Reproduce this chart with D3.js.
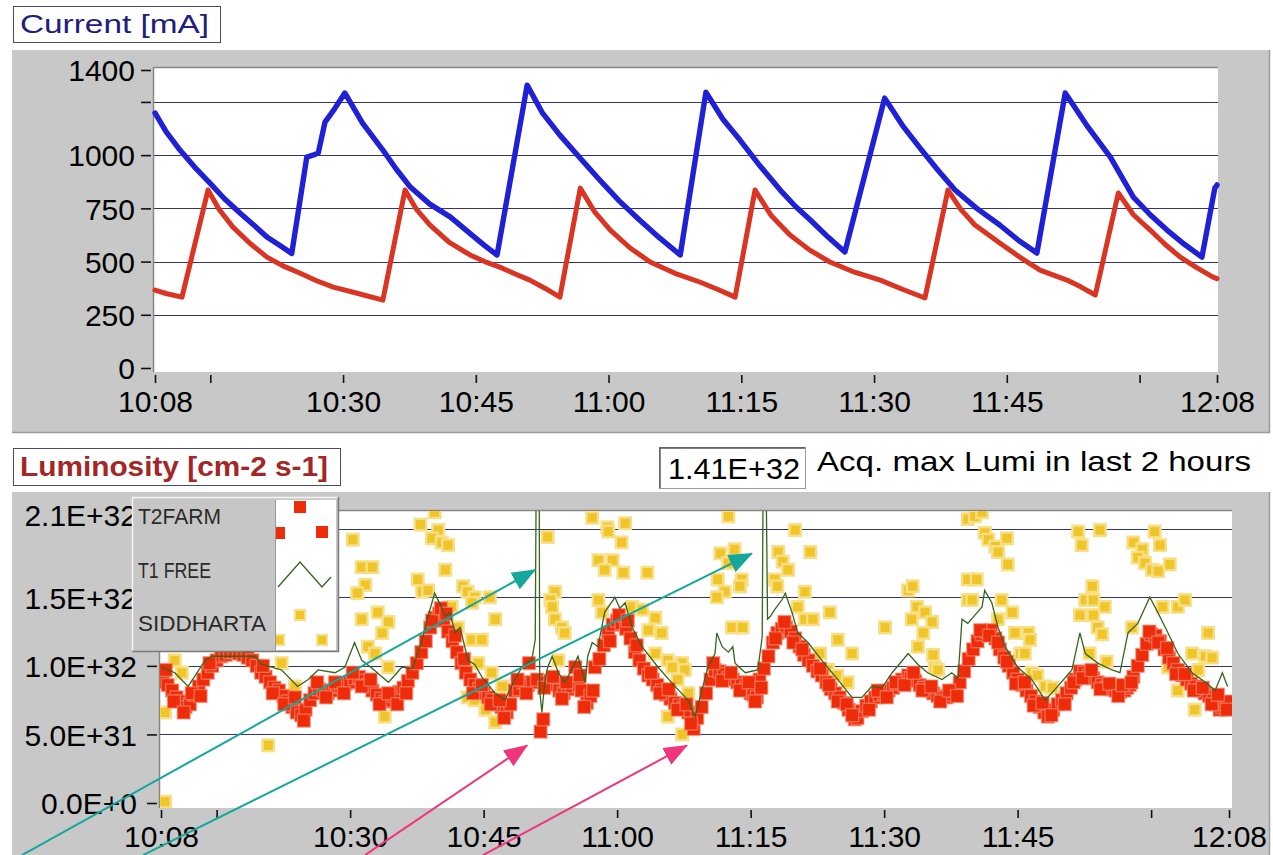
<!DOCTYPE html>
<html>
<head>
<meta charset="utf-8">
<script src="https://cdn.jsdelivr.net/npm/d3@7"></script>
<style>
  html, body { margin: 0; padding: 0; background: #ffffff; }
  svg { display: block; }
  text { font-family: "Liberation Sans", Arial, sans-serif; }
</style>
</head>
<body>
<svg id="chart" width="1273" height="855"></svg>
<script>
// ---- time helpers: all series are stored as [minutes past 10:00, value] ----
const day = new Date(2024, 0, 1, 10, 0, 0);
const at = m => new Date(day.getTime() + m * 60000);

const windowStart = 8.75;   // 10:08:45
const windowEnd = 128.75;   // 12:08:45

const timeTickMinutes = [8.75, 15, 30, 45, 60, 75, 90, 105, 120, 128.75];
const timeTickLabels = ["10:08", "", "10:30", "10:45", "11:00", "11:15", "11:30", "11:45", "", "12:08"];

const currentTicks = [0, 250, 500, 750, 1000, 1250, 1400];
const currentTickLabels = ["0", "250", "500", "750", "1000", "", "1400"];
const currentGrid = [250, 500, 750, 1000, 1250];

// luminosity values are in units of 1E+32 cm-2 s-1
const lumiTicks = [0, 0.5, 1.0, 1.5, 2.1];
const lumiTickLabels = ["0.0E+0", "5.0E+31", "1.0E+32", "1.5E+32", "2.1E+32"];
const lumiGrid = [0.5, 1.0, 1.5, 2.0];

const acquiredMaxLumi = "1.41E+32";

// ---- beam currents [mA] ----
const electronCurrent = [
  [8.75,1198],[10,1110],[11.57,1024],[13.2,945],[14.96,869],[16.6,795],[18.35,728],[20,668],
  [21.4,615],[23,572],[24.2,538],[25.9,991],[26.6,1000],[27.2,1010],[27.96,1155],[29.0,1215],
  [30.2,1292],[32.2,1150],[34.5,1024],[36,935],[37.6,850],[39.8,770],[42.1,710],[44.3,634],
  [46,575],[47.4,531],[50.8,1329],[52.5,1200],[54.5,1094],[56.8,985],[59.0,883],[61.2,785],
  [63.5,695],[65.8,610],[68.1,531],[71.0,1296],[72.9,1170],[74.85,1071],[77.1,950],[79.4,836],
  [81.1,760],[82.8,695],[84.8,615],[86.7,545],[91.2,1268],[93.2,1140],[95.2,1033],[97.2,930],
  [99.15,836],[101.6,750],[104.2,672],[106.3,600],[108.4,540],[111.6,1292],[114.2,1130],
  [116.7,991],[119.3,803],[121.2,720],[123.1,648],[125.1,580],[127.05,521],[128.5,845],[128.75,860]
];

const positronCurrent = [
  [8.75,366],[10,350],[11.8,333],[14.74,836],[16,745],[17.56,662],[19.5,585],[21.4,521],
  [23.2,480],[25.1,446],[27,410],[28.9,380],[31.7,350],[34.5,319],[37.0,836],[38.3,745],
  [39.8,672],[42,590],[44.35,531],[46,500],[47.7,474],[49.4,443],[51.1,413],[52.8,375],
  [54.5,333],[56.8,845],[58.4,735],[60.2,648],[62.4,565],[64.7,498],[67.5,445],[70.3,404],
  [72.3,370],[74.3,333],[76.55,836],[78.4,715],[80.5,625],[82.7,555],[85.0,498],[87.8,450],
  [90.7,413],[93.2,370],[95.75,329],[98.35,836],[99.8,745],[101.4,672],[104.2,587],[106.5,520],
  [108.75,460],[111.8,413],[113.4,380],[115.0,343],[117.6,822],[119.3,720],[121.2,648],
  [122.9,580],[124.6,521],[126.5,470],[128.3,427],[128.75,420]
];

// ---- luminosity monitors [1E+32 cm-2 s-1] ----
const t2farm = [
  [9,0.88],[9.5,0.86],[10,0.82],[10.5,0.77],[11,0.74],[11.5,0.70],[12,0.72],[12.5,0.79],[13,0.85],
  [13.5,0.90],[14,0.95],[14.5,1.0],[15,1.04],[15.5,1.07],[16,1.08],[16.5,1.10],[17,1.10],[17.5,1.09],
  [18,1.08],[18.5,1.06],[19,1.04],[19.5,1.00],[20,0.95],[20.5,0.92],[21,0.88],[21.5,0.84],[22,0.82],
  [22.5,0.78],[23,0.74],[23.5,0.70],[24,0.66],[24.5,0.64],[25,0.68],[25.5,0.75],[26,0.80],[26.5,0.83],
  [27,0.82],[27.5,0.80],[28,0.82],[28.5,0.85],[29,0.85],[29.5,0.87],[30,0.88],[30.5,0.91],[31,0.92],
  [31.5,0.89],[32,0.86],[32.5,0.82],[33,0.79],[33.5,0.76],[34,0.74],[34.5,0.75],[35,0.78],[35.5,0.81],
  [36,0.84],[36.5,0.89],[37,0.95],[37.5,1.02],[38,1.10],[38.5,1.18],[39,1.28],[39.5,1.35],[40,1.38],
  [40.5,1.33],[41,1.25],[41.5,1.18],[42,1.10],[42.5,1.02],[43,0.95],[43.5,0.90],[44,0.86],[44.5,0.83],
  [45,0.80],[45.5,0.77],[46,0.75],[46.5,0.72],[47,0.70],[47.6,0.66],[48,0.72],[48.5,0.82],[49,0.83],
  [49.5,0.88],[50,0.86],[50.1,1.02],[50.5,0.88],[51,0.90],[51.4,0.52],[51.7,0.61],[52,0.88],
  [52.5,0.89],[53,0.86],[53.5,0.82],[54,0.80],[54.5,0.83],[54.9,0.85],[55.3,0.99],[55.7,0.86],
  [56,0.82],[56.6,0.73],[57,0.78],[57.5,0.99],[58,1.05],[58.5,1.15],[59,1.24],[59.5,1.30],[60,1.33],
  [60.5,1.31],[61,1.27],[61.5,1.20],[62,1.10],[62.5,1.04],[63,0.98],[63.5,0.93],[64,0.90],[64.5,0.86],
  [65,0.82],[65.5,0.79],[66,0.76],[66.5,0.73],[67,0.71],[67.5,0.69],[68,0.66],[68.6,0.54],[69,0.62],
  [69.5,0.70],[70,0.80],[70.5,0.90],[71,0.97],[71.5,0.96],[72,0.94],[72.5,0.91],[73,0.90],[73.5,0.88],
  [74,0.86],[74.5,0.84],[75,0.80],[75.3,0.79],[75.7,0.77],[76,0.90],[76.5,0.98],[77,1.07],[77.5,1.17],
  [78,1.24],[78.5,1.27],[79,1.28],[79.5,1.25],[80,1.20],[80.5,1.14],[81,1.08],[81.5,1.04],[82,1.00],
  [82.5,0.96],[83,0.93],[83.5,0.88],[84,0.83],[84.5,0.80],[85,0.77],[85.5,0.73],[86,0.68],[86.7,0.61],
  [87,0.62],[87.5,0.67],[88,0.71],[88.5,0.74],[89,0.77],[89.5,0.79],[90,0.80],[90.5,0.82],[91,0.84],
  [91.5,0.87],[92,0.90],[92.7,0.93],[93,0.91],[93.5,0.89],[94,0.86],[94.5,0.84],[95,0.82],[95.5,0.80],
  [96,0.78],[96.5,0.77],[97,0.77],[97.5,0.79],[98,0.82],[98.5,0.88],[99,0.96],[99.5,1.05],[100,1.12],
  [100.5,1.18],[101,1.23],[101.5,1.25],[102,1.26],[102.5,1.20],[103,1.12],[103.5,1.06],[104,1.00],
  [104.5,0.95],[105,0.90],[105.5,0.86],[106,0.82],[106.5,0.78],[107,0.74],[107.5,0.70],[108,0.66],
  [108.4,0.63],[109,0.68],[109.5,0.72],[110,0.75],[110.5,0.80],[111,0.84],[111.5,0.90],[112,0.96],
  [112.5,0.95],[113,0.93],[113.5,0.91],[114,0.88],[114.5,0.86],[115,0.84],[115.5,0.83],[116,0.82],
  [116.5,0.81],[117,0.82],[117.3,0.84],[117.6,0.86],[118,0.92],[118.5,1.00],[119,1.08],[119.5,1.16],
  [120,1.23],[120.5,1.22],[121,1.18],[121.5,1.12],[122,1.06],[122.5,1.02],[123,0.97],[123.5,0.93],
  [124,0.90],[124.5,0.87],[125,0.85],[125.5,0.82],[126,0.80],[126.5,0.78],[127,0.75],[127.3,0.72],
  [127.7,0.68],[128,0.70],[128.3,0.72],[128.6,0.74],
  // samples scattered above and below the main band
  [9.3,0.97],[10.2,0.74],[11.3,0.66],[12.2,0.80],[13.2,0.78],[14.2,1.02],[20.2,1.0],[21.3,0.80],
  [22.6,0.72],[23.8,0.77],[24.8,0.60],[26.3,0.88],[27.3,0.77],[28.3,0.88],[29.3,0.80],[30.3,0.95],
  [31.3,0.85],[32.3,0.90],[33.3,0.72],[34.3,0.80],[35.3,0.72],[36.3,0.80],[39.2,1.33],[40.2,1.42],
  [40.8,1.38],[41.8,1.22],[42.8,1.05],[43.8,0.80],[44.8,0.86],[45.8,0.72],[46.8,0.75],[47.3,0.62],
  [48.8,0.90],[49.8,0.80],[51.8,0.84],[52.8,0.92],[53.8,0.76],[54.3,0.88],[55.8,0.93],[56.3,0.70],
  [57.3,0.82],[59.2,1.18],[60.2,1.37],[61.2,1.33],[62.2,1.15],[63.8,0.95],[64.8,0.80],[65.8,0.83],
  [66.8,0.68],[67.8,0.72],[68.3,0.58],[70.8,1.02],[71.8,0.89],[72.8,0.95],[73.8,0.82],[74.8,0.88],
  [75.5,0.74],[76.2,0.84],[77.8,1.20],[78.8,1.32],[79.8,1.17],[80.8,1.12],[82.8,0.98],[83.8,0.86],
  [84.8,0.74],[85.8,0.72],[86.4,0.64],[88.3,0.68],[89.3,0.82],[90.3,0.77],[91.3,0.88],[92.3,0.86],
  [93.3,0.95],[94.3,0.82],[95.3,0.85],[96.3,0.74],[97.3,0.82],[98.2,0.78],[100.8,1.26],[101.8,1.22],
  [102.8,1.17],[103.8,1.03],[104.8,0.87],[105.8,0.88],[106.8,0.71],[107.8,0.73],[108.8,0.64],
  [110.3,0.72],[111.3,0.88],[112.3,0.91],[113.3,0.97],[114.3,0.83],[115.3,0.87],[116.3,0.78],
  [116.8,0.86],[117.8,0.88],[119.8,1.25],[120.8,1.17],[121.8,1.13],[122.8,0.94],[123.8,0.94],
  [124.8,0.82],[125.8,0.84],[126.8,0.72],[127.5,0.79],[128.5,0.68]
];

const t1free = [
  [8.86,0.99],[10.3,0.95],[11.8,0.85],[13.7,1.04],[14.5,1.07],[19.3,1.07],[20.1,1.01],[22.3,0.97],
  [24.1,0.85],[25.3,0.90],[26.4,0.97],[28.3,0.95],[29.4,0.99],[30.5,1.17],[31.3,1.04],[32.5,0.98],
  [34.3,0.88],[35.0,0.93],[35.8,0.99],[37.0,0.98],[38.1,1.19],[38.75,1.36],[39.5,1.53],[40.1,1.45],
  [40.7,1.36],[41.2,1.39],[41.8,1.24],[42.35,1.28],[43.25,1.04],[44.0,1.01],[44.8,0.92],[46.3,0.80],
  [47.4,0.75],[48.5,0.90],[49.3,0.99],[50.4,1.04],[50.8,1.19],[50.9,2.3],[51.25,2.3],[51.3,0.82],
  [51.55,0.66],[51.9,0.90],[52.2,0.99],[52.7,1.07],[53.4,0.95],[54.1,0.88],[54.9,0.97],[55.6,1.07],
  [56.4,0.88],[56.7,1.07],[57.2,1.17],[57.85,1.14],[58.6,1.39],[59.75,1.50],[60.3,1.42],[60.9,1.46],
  [61.7,1.28],[62.8,1.14],[64.6,0.99],[66.5,0.85],[67.96,0.75],[68.75,0.63],[70.2,0.99],[71.0,1.09],
  [71.2,1.24],[71.8,1.14],[72.5,1.10],[73.0,1.14],[73.25,1.02],[74.4,0.95],[75.8,0.97],[76.3,1.21],
  [76.4,2.3],[76.75,2.3],[76.9,1.34],[77.2,1.36],[77.7,1.41],[78.5,1.48],[78.9,1.53],[79.65,1.39],
  [80.3,1.24],[81.45,1.17],[83.0,1.04],[84.8,0.90],[86.4,0.77],[87.5,0.77],[88.6,0.85],[89.75,0.84],
  [90.9,0.95],[92.7,1.09],[93.8,1.01],[94.9,0.95],[96.5,0.90],[97.6,0.95],[98.3,0.91],[98.75,1.34],
  [99.4,1.31],[100.2,1.37],[101.0,1.43],[101.3,1.55],[102.1,1.46],[102.8,1.28],[103.6,1.14],
  [105.0,0.99],[106.6,0.90],[108.1,0.75],[109.5,0.85],[111.1,0.97],[112.0,1.24],[112.6,1.09],
  [114.0,1.02],[115.6,0.97],[116.5,0.95],[117.4,1.24],[118.5,1.31],[119.85,1.50],[120.75,1.39],
  [121.9,1.24],[123.0,1.09],[124.6,0.95],[126.1,0.88],[127.2,0.82],[128.0,0.95],[128.6,0.85]
];

const siddharta = [
  [9.2,0.66],[11.1,0.95],[9.2,0.01],[10.3,1.04],[20.8,0.42],[22.3,1.02],[23.8,0.85],
  [37.9,2.03],[30.3,1.92],[31.3,1.72],[32.5,1.72],[37.6,1.63],[31.7,1.59],[30.8,1.53],[38.1,1.54],
  [33.1,1.39],[34.3,1.32],[31.3,1.34],[33.6,1.24],[32.0,1.14],[32.8,1.09],[34.3,0.99],[33.9,0.63],
  [39.5,2.12],[39.9,1.99],[39.2,1.93],[40.3,1.90],[41.0,1.88],[40.7,1.70],[38.75,1.55],[42.7,1.58],
  [43.2,1.54],[44.0,1.50],[45.7,1.50],[43.7,1.46],[41.4,1.43],[46.3,1.34],[42.1,1.28],[43.7,1.19],
  [44.8,1.19],[44.4,1.02],[45.9,0.95],[43.2,0.77],[44.0,0.75],[45.2,0.68],[46.3,0.59],[47.1,0.85],
  [52.2,1.94],[53.0,1.54],[52.5,1.48],[52.7,1.43],[53.0,1.34],[53.8,1.28],[54.1,1.24],[53.4,1.04],
  [57.2,2.08],[58.9,2.01],[60.9,2.04],[59.0,1.98],[60.5,1.90],[57.9,1.77],[59.5,1.77],[58.6,1.70],
  [60.7,1.68],[63.4,1.68],[57.9,1.48],[58.3,1.39],[61.7,1.43],[62.8,1.41],[64.3,1.35],[65.0,1.24],
  [63.5,1.26],[64.3,1.09],[65.7,1.04],[67.3,1.02],[66.2,0.99],[67.6,0.97],[66.8,0.90],[68.0,0.80],
  [65.7,0.63],[67.3,0.50],
  [72.5,2.09],[71.6,1.82],[73.2,1.85],[72.5,1.75],[71.3,1.63],[74.0,1.63],[72.1,1.54],[71.2,1.50],
  [73.8,1.58],[72.9,1.28],[74.1,1.28],[80.0,1.99],[81.7,1.83],[78.1,1.83],[78.6,1.76],[79.2,1.70],
  [77.7,1.63],[78.0,1.58],[81.1,1.54],[80.3,1.43],[81.1,1.34],[82.0,1.34],[83.9,1.39],[84.8,1.19],
  [86.4,1.09],[82.8,1.09],[83.7,0.97],[84.7,0.93],[85.9,0.88],[90.1,1.28],[92.7,1.55],[93.2,1.58],
  [93.7,1.43],[94.6,1.39],[95.4,1.32],[93.1,1.34],[94.4,1.24],[93.8,1.14],[95.5,1.08],[95.7,0.99],
  [96.05,0.97],[99.4,2.07],[99.4,1.63],[99.4,1.48],
  [100.2,2.09],[101.0,2.12],[101.3,1.97],[101.7,1.92],[102.5,1.87],[102.8,1.83],[103.8,1.93],
  [103.9,1.74],[100.4,1.63],[99.9,1.48],[103.2,1.48],[104.4,1.39],[102.8,1.34],[104.7,1.24],
  [106.2,1.24],[106.4,1.19],[105.3,1.09],[105.8,1.09],[106.6,0.95],[107.2,0.93],[108.1,0.85],
  [108.9,0.84],[111.8,1.98],[114.25,1.99],[112.2,1.88],[113.4,1.58],[112.6,1.48],[113.5,1.48],
  [114.8,1.43],[112.0,1.37],[113.5,1.37],[114.0,1.28],[114.5,1.23],[113.1,1.09],[115.0,1.03],
  [118.0,1.90],[119.0,1.85],[118.5,1.79],[119.3,1.75],[120.1,1.70],[120.8,1.69],[120.4,1.98],
  [121.0,1.88],[122.1,1.74],[117.85,1.28],[121.3,1.43],[123.0,1.43],[123.8,1.48],[126.4,1.24],
  [124.6,1.09],[126.1,1.07],[126.85,1.06],[121.9,0.99],[125.3,0.97],[123.0,0.82],[124.9,0.68]
];

// ---- annotation arrows: [start minute, start value, tip minute, tip value] in luminosity units ----
const spikeArrows = [[-6.87, -0.38, 50.8, 1.70], [6.73, -0.38, 75.15, 1.82]];
const dipArrows = [[31.67, -0.38, 49.9, 0.42], [44.93, -0.38, 67.85, 0.42]];

// ---- styles ----
const C = {
  panel: "#c8c8c8", panelEdge: "#9c9c9c", inset: "#868686",
  grid: "#34346e", blue: "#2020d6", red: "#da3422",
  farm: "#ee2c0a", farmEdge: "#f3937c", free: "#35661c",
  sid: "#f0c52a", sidEdge: "#f8df86", teal: "#14a79c", pink: "#f0357c"
};

const svg = d3.select("#chart");
const defs = svg.append("defs");

function addMarker(id, color) {
  defs.append("marker").attr("id", id)
    .attr("viewBox", "0 -10 24 20").attr("refX", 23).attr("refY", 0)
    .attr("markerWidth", 24).attr("markerHeight", 20)
    .attr("markerUnits", "userSpaceOnUse").attr("orient", "auto")
    .append("path").attr("d", "M0,-9.5L24,0L0,9.5Z").attr("fill", color);
}
addMarker("headTeal", C.teal);
addMarker("headPink", C.pink);

function grayPanel(x, y, w, h) {
  svg.append("rect").attr("x", x).attr("y", y).attr("width", w).attr("height", h)
    .attr("fill", C.panel);
  svg.append("path").attr("d", `M${x + w - 0.5},${y}V${y + h - 0.5}H${x}`)
    .attr("fill", "none").attr("stroke", C.panelEdge).attr("stroke-width", 1.5);
}
function plotArea(x, y, w, h) {
  svg.append("rect").attr("x", x).attr("y", y).attr("width", w).attr("height", h).attr("fill", "#fff");
  svg.append("path").attr("d", `M${x - 0.5},${y + h}V${y - 0.5}H${x + w}`)
    .attr("fill", "none").attr("stroke", C.inset).attr("stroke-width", 1.5);
}
function titleBox(x, y, w, h, label, color, size, len, weight) {
  svg.append("rect").attr("x", x + 0.5).attr("y", y + 0.5).attr("width", w).attr("height", h)
    .attr("fill", "#fff").attr("stroke", "#4c4c6a").attr("stroke-width", 1);
  svg.append("text").attr("x", x + 7).attr("y", y + h - 9)
    .attr("font-size", size).attr("fill", color).attr("font-weight", weight || "normal")
    .attr("textLength", len).attr("lengthAdjust", "spacingAndGlyphs")
    .text(label);
}
function styleAxis(g) {
  g.select(".domain").remove();
  g.selectAll(".tick line").attr("stroke", "#111").attr("stroke-width", 1.6);
  g.selectAll(".tick text").attr("font-size", 30).attr("fill", "#000")
    .attr("font-family", "'Liberation Sans', Arial, sans-serif");
}

// ================= Current panel =================
grayPanel(12, 50, 1258, 383);
plotArea(154, 68, 1064, 304);
titleBox(13, 6, 207, 36, "Current [mA]", "#20207c", 25, 189);

const xTop = d3.scaleTime().domain([at(windowStart), at(windowEnd)]).range([155, 1217]);
const yTop = d3.scaleLinear().domain([0, 1400]).range([368, 70]);

svg.append("g").selectAll("line").data(currentGrid).join("line")
  .attr("x1", 154).attr("x2", 1218)
  .attr("y1", d => Math.round(yTop(d)) + 0.5).attr("y2", d => Math.round(yTop(d)) + 0.5)
  .attr("stroke", C.grid).attr("stroke-width", 1.2);

const gyTop = svg.append("g").attr("transform", "translate(151,0)")
  .call(d3.axisLeft(yTop).tickValues(currentTicks).tickSize(10).tickPadding(6)
    .tickFormat((d, i) => currentTickLabels[i]));
styleAxis(gyTop);
gyTop.selectAll(".tick text").attr("dy", "0.36em");

const gxTop = svg.append("g").attr("transform", "translate(0,375)")
  .call(d3.axisBottom(xTop).tickValues(timeTickMinutes.map(at)).tickSize(8).tickPadding(8)
    .tickFormat((d, i) => timeTickLabels[i]));
styleAxis(gxTop);

const lineTop = d3.line().x(d => xTop(at(d[0]))).y(d => yTop(d[1]));
svg.append("path").datum(positronCurrent).attr("d", lineTop)
  .attr("fill", "none").attr("stroke", C.red).attr("stroke-width", 5)
  .attr("stroke-linejoin", "round").attr("stroke-linecap", "round");
svg.append("path").datum(electronCurrent).attr("d", lineTop)
  .attr("fill", "none").attr("stroke", C.blue).attr("stroke-width", 5.4)
  .attr("stroke-linejoin", "round").attr("stroke-linecap", "round");

// ================= Luminosity panel =================
titleBox(13, 448, 327, 37, "Luminosity [cm-2 s-1]", "#a42626", 28, 308, "bold");

// acquired maximum readout
svg.append("rect").attr("x", 659.5).attr("y", 447.5).attr("width", 146).attr("height", 41)
  .attr("fill", "#fff").attr("stroke", "#9a9a9a").attr("stroke-width", 1);
svg.append("path").attr("d", "M660,488V448H805").attr("fill", "none")
  .attr("stroke", "#555").attr("stroke-width", 1.4);
svg.append("text").attr("x", 668).attr("y", 479).attr("font-size", 29).attr("fill", "#000")
  .attr("textLength", 132).attr("lengthAdjust", "spacingAndGlyphs").text(acquiredMaxLumi);
svg.append("text").attr("x", 817).attr("y", 471).attr("font-size", 28).attr("fill", "#000")
  .attr("textLength", 434).attr("lengthAdjust", "spacingAndGlyphs")
  .text("Acq. max Lumi in last 2 hours");

grayPanel(12, 492, 1258, 380);
plotArea(160, 511, 1072, 297);

const xBot = d3.scaleTime().domain([at(windowStart), at(windowEnd)]).range([161, 1229]);
const yBot = d3.scaleLinear().domain([0, 2.1]).range([803, 515]);

svg.append("g").selectAll("line").data(lumiGrid).join("line")
  .attr("x1", 160).attr("x2", 1232)
  .attr("y1", d => Math.round(yBot(d)) + 0.5).attr("y2", d => Math.round(yBot(d)) + 0.5)
  .attr("stroke", C.grid).attr("stroke-width", 1.2);

const gyBot = svg.append("g").attr("transform", "translate(157,0)")
  .call(d3.axisLeft(yBot).tickValues(lumiTicks).tickSize(10).tickPadding(10)
    .tickFormat((d, i) => lumiTickLabels[i]));
styleAxis(gyBot);
gyBot.selectAll(".tick text").attr("dy", "0.36em");

const gxBot = svg.append("g").attr("transform", "translate(0,810)")
  .call(d3.axisBottom(xBot).tickValues(timeTickMinutes.map(at)).tickSize(8).tickPadding(8)
    .tickFormat((d, i) => timeTickLabels[i]));
styleAxis(gxBot);

defs.append("clipPath").attr("id", "lumiClip")
  .append("rect").attr("x", 160).attr("y", 511).attr("width", 1072).attr("height", 297);
const plot = svg.append("g").attr("clip-path", "url(#lumiClip)");

const SQ_SID = 11.5, SQ_FARM = 13;
plot.append("g").selectAll("rect").data(siddharta).join("rect")
  .attr("x", d => xBot(at(d[0])) - SQ_SID / 2).attr("y", d => yBot(d[1]) - SQ_SID / 2)
  .attr("width", SQ_SID).attr("height", SQ_SID)
  .attr("fill", C.sid).attr("stroke", C.sidEdge).attr("stroke-width", 2.4);

plot.append("g").selectAll("rect").data(t2farm).join("rect")
  .attr("x", d => xBot(at(d[0])) - SQ_FARM / 2).attr("y", d => yBot(d[1]) - SQ_FARM / 2)
  .attr("width", SQ_FARM).attr("height", SQ_FARM)
  .attr("fill", C.farm).attr("stroke", C.farmEdge).attr("stroke-width", 1.4).attr("stroke-opacity", 0.6);

const lineBot = d3.line().x(d => xBot(at(d[0]))).y(d => yBot(d[1]));
plot.append("path").datum(t1free).attr("d", lineBot)
  .attr("fill", "none").attr("stroke", C.free).attr("stroke-width", 1.3);

// ---- legend ----
const legendItems = [
  { name: "T2FARM", kind: "farm" },
  { name: "T1 FREE", kind: "free" },
  { name: "SIDDHARTA", kind: "sid" }
];
const lg = svg.append("g");
lg.append("rect").attr("x", 132).attr("y", 497).attr("width", 207).attr("height", 155).attr("fill", "#c6c6c6");
lg.append("rect").attr("x", 275).attr("y", 500).attr("width", 61).attr("height", 150).attr("fill", "#fff");
lg.append("path").attr("d", "M132.5,652V497.5H339").attr("fill", "none").attr("stroke", "#f4f4f4").attr("stroke-width", 1.5);
lg.append("path").attr("d", "M338.5,497V651.5H132").attr("fill", "none").attr("stroke", "#7a7a7a").attr("stroke-width", 1.5);
lg.append("path").attr("d", "M275.5,650V500").attr("fill", "none").attr("stroke", "#9a9a9a").attr("stroke-width", 1);
lg.selectAll("text").data(legendItems).join("text")
  .attr("x", 138).attr("y", (d, i) => 524 + i * 53.5)
  .attr("font-size", 22).attr("fill", "#2a2a2a")
  .attr("textLength", (d, i) => [83, 73, 128][i]).attr("lengthAdjust", "spacingAndGlyphs")
  .text(d => d.name);
defs.append("clipPath").attr("id", "swatchClip")
  .append("rect").attr("x", 276).attr("y", 500).attr("width", 60).attr("height", 150);
const sw = lg.append("g").attr("clip-path", "url(#swatchClip)");
[[300, 507], [279, 533], [322, 532]].forEach(p => sw.append("rect")
  .attr("x", p[0] - 6).attr("y", p[1] - 6).attr("width", 12).attr("height", 12).attr("fill", C.farm));
sw.append("path").attr("d", "M278,587L300,562L322,587L331,577")
  .attr("fill", "none").attr("stroke", C.free).attr("stroke-width", 1.3);
[[300, 615], [279, 640], [322, 640]].forEach(p => sw.append("rect")
  .attr("x", p[0] - 5).attr("y", p[1] - 5).attr("width", 10).attr("height", 10)
  .attr("fill", C.sid).attr("stroke", C.sidEdge).attr("stroke-width", 2));

// ---- annotation arrows ----
function drawArrows(list, color, marker) {
  svg.append("g").selectAll("line").data(list).join("line")
    .attr("x1", d => xBot(at(d[0]))).attr("y1", d => yBot(d[1]))
    .attr("x2", d => xBot(at(d[2]))).attr("y2", d => yBot(d[3]))
    .attr("stroke", color).attr("stroke-width", 2)
    .attr("marker-end", `url(#${marker})`);
}
drawArrows(spikeArrows, C.teal, "headTeal");
drawArrows(dipArrows, C.pink, "headPink");
</script>
</body>
</html>
